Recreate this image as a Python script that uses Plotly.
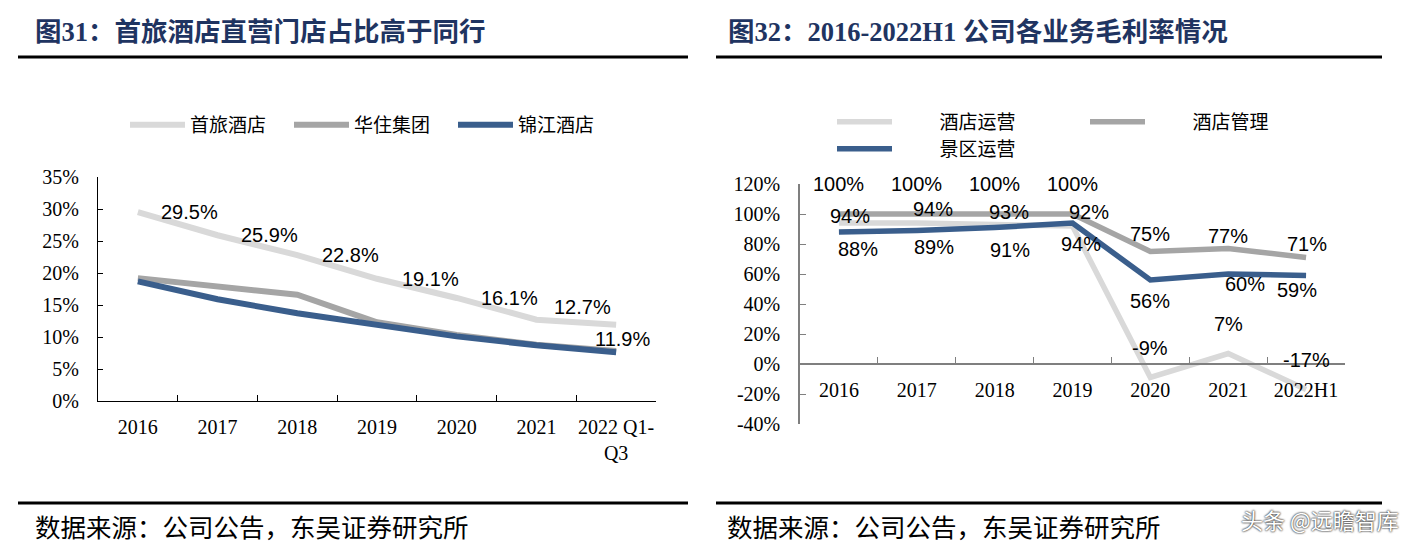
import plotly.graph_objects as go

# ---------------- data ----------------
left_categories = ["2016", "2017", "2018", "2019", "2020", "2021", "2022 Q1-<br>Q3"]
shoulv_hotel = [29.5, 25.9, 22.8, 19.1, 16.1, 12.7, 11.9]      # 首旅酒店
huazhu_group = [19.2, 17.9, 16.6, 12.3, 10.3, 8.8, 7.8]        # 华住集团
jinjiang_hotel = [18.7, 15.9, 13.7, 11.8, 10.1, 8.7, 7.6]      # 锦江酒店
left_yticks = [0, 5, 10, 15, 20, 25, 30, 35]

right_categories = ["2016", "2017", "2018", "2019", "2020", "2021", "2022H1"]
hotel_ops = [94, 94, 93, 92, -9, 7, -17]          # 酒店运营
hotel_mgmt = [100, 100, 100, 100, 75, 77, 71]     # 酒店管理
scenic_ops = [88, 89, 91, 94, 56, 60, 59]         # 景区运营
right_yticks = [-40, -20, 0, 20, 40, 60, 80, 100, 120]

# ---------------- styles ----------------
W, H = 1409, 550
C_LIGHT = "#D9D9D9"
C_GRAY = "#A5A5A5"
C_BLUE = "#3A5E8C"
TITLE_C = "#1F3461"
SERIF = "Liberation Serif, Times New Roman, serif"
SANS = "Liberation Sans, Arial, sans-serif"
CJK = "Noto Sans CJK SC"
TITLE_FONT = "Liberation Serif, Noto Sans CJK SC"

# label offsets (px): (dx, dy) for each point
left_label_off = [(52, 0), (52, 0), (53, 0), (53, 0), (53, 0), (46, 13), (6, -14)]
ops_label_off = [(11, 7), (16, 14), (14, 12), (16, 14), (0, 30), (0, 30), (0, 30)]
mgmt_label_off = [(0, 30), (0, 30), (0, 30), (0, 30), (0, 17), (0, 12), (1, 14)]
scenic_label_off = [(19, -17), (17, -17), (15, -23), (8, -21), (0, -21), (17, -10), (-9, -14)]

def px_x(v):
    return v / W

def px_y(v):
    return 1 - v / H

fig = go.Figure()

# left chart traces
fig.add_trace(go.Scatter(x=left_categories, y=shoulv_hotel, name="首旅酒店", mode="lines",
                         line=dict(color=C_LIGHT, width=6), xaxis="x", yaxis="y", legend="legend"))
fig.add_trace(go.Scatter(x=left_categories, y=huazhu_group, name="华住集团", mode="lines",
                         line=dict(color=C_GRAY, width=6), xaxis="x", yaxis="y", legend="legend"))
fig.add_trace(go.Scatter(x=left_categories, y=jinjiang_hotel, name="锦江酒店", mode="lines",
                         line=dict(color=C_BLUE, width=6), xaxis="x", yaxis="y", legend="legend"))

# right chart traces
pad = "\u00a0" * 10
fig.add_trace(go.Scatter(x=right_categories, y=hotel_ops, name=pad + "酒店运营", mode="lines",
                         line=dict(color=C_LIGHT, width=5.5), xaxis="x2", yaxis="y2", legend="legend2"))
fig.add_trace(go.Scatter(x=right_categories, y=hotel_mgmt, name=pad + "酒店管理", mode="lines",
                         line=dict(color=C_GRAY, width=5.5), xaxis="x2", yaxis="y2", legend="legend2"))
fig.add_trace(go.Scatter(x=right_categories, y=scenic_ops, name=pad + "景区运营", mode="lines",
                         line=dict(color=C_BLUE, width=5.5), xaxis="x2", yaxis="y2", legend="legend3"))

annotations = []

def add_labels(vals, offs, xr, yr):
    for i, (v, (dx, dy)) in enumerate(zip(vals, offs)):
        annotations.append(dict(x=i, y=v, xref=xr, yref=yr, text=f"{v}%", showarrow=False,
                                xshift=dx, yshift=dy, xanchor="center", yanchor="middle",
                                font=dict(family=SANS, size=20, color="black")))

add_labels(shoulv_hotel, left_label_off, "x", "y")
add_labels(hotel_mgmt, mgmt_label_off, "x2", "y2")
add_labels(hotel_ops, ops_label_off, "x2", "y2")
add_labels(scenic_ops, scenic_label_off, "x2", "y2")

# titles
annotations.append(dict(x=px_x(33), y=px_y(32), xref="paper", yref="paper", xanchor="left", yanchor="middle",
                        text="<b>图31：首旅酒店直营门店占比高于同行</b>", showarrow=False,
                        font=dict(family=TITLE_FONT, size=26.5, color=TITLE_C)))
annotations.append(dict(x=px_x(726), y=px_y(32), xref="paper", yref="paper", xanchor="left", yanchor="middle",
                        text="<b>图32：2016-2022H1 公司各业务毛利率情况</b>", showarrow=False,
                        font=dict(family=TITLE_FONT, size=26.5, color=TITLE_C)))
# sources
for sx in (33, 725):
    annotations.append(dict(x=px_x(sx), y=px_y(525), xref="paper", yref="paper", xanchor="left", yanchor="middle",
                            text="数据来源：公司公告，东吴证券研究所", showarrow=False,
                            font=dict(family=CJK, size=25.5, color="black")))
# watermark
annotations.append(dict(x=px_x(1320), y=px_y(519), xref="paper", yref="paper", xanchor="center", yanchor="middle",
                        text="头条 @远瞻智库", showarrow=False,
                        font=dict(family=CJK, size=22, color="white",
                                  shadow="0px 0px 2px #333, 0px 0px 2px #333")))

shapes = []
for (x0, x1) in ((18, 688), (716, 1382)):
    for yy in (57, 503):
        shapes.append(dict(type="line", xref="paper", yref="paper", x0=px_x(x0), x1=px_x(x1),
                           y0=px_y(yy), y1=px_y(yy), line=dict(color="black", width=3)))

tickfont = dict(family=SERIF, size=20, color="black")

fig.update_layout(
    width=W, height=H,
    margin=dict(l=0, r=0, t=0, b=0, autoexpand=False),
    paper_bgcolor="white", plot_bgcolor="white",
    showlegend=True,
    xaxis=dict(domain=[px_x(98), px_x(656)], type="category", range=[-0.5, 6.5],
               showline=True, linecolor="black", linewidth=1, ticks="inside", ticklen=6,
               tickcolor="black", tickson="boundaries", showgrid=False, zeroline=False,
               tickfont=tickfont, ticklabelstandoff=8, tickangle=0, anchor="y"),
    yaxis=dict(domain=[px_y(401), px_y(177)], range=[0, 35], tickvals=left_yticks,
               ticktext=[f"{t}%" for t in left_yticks], showline=True, linecolor="black", linewidth=1,
               ticks="inside", ticklen=5, tickcolor="black", showgrid=False, zeroline=False,
               tickfont=tickfont, ticklabelstandoff=14, anchor="x"),
    xaxis2=dict(domain=[px_x(800), px_x(1345)], type="category", range=[-0.5, 6.5],
                anchor="free", position=px_y(364),
                showline=True, linecolor="#7F7F7F", linewidth=1.5, ticks="inside", ticklen=6,
                tickcolor="#7F7F7F", tickson="boundaries", showgrid=False, zeroline=False,
                tickfont=tickfont, ticklabelstandoff=8, tickangle=0),
    yaxis2=dict(domain=[px_y(424), px_y(184)], range=[-40, 120], tickvals=right_yticks,
                ticktext=[f"{t}%" for t in right_yticks], showline=True, linecolor="#7F7F7F",
                linewidth=1.5, ticks="inside", ticklen=6, tickcolor="#7F7F7F", showgrid=False,
                zeroline=False, tickfont=tickfont, ticklabelstandoff=14, anchor="x2"),
    legend=dict(orientation="h", x=px_x(125), y=px_y(125), xanchor="left", yanchor="middle",
                itemwidth=55, entrywidth=94, entrywidthmode="pixels",
                font=dict(family=CJK, size=19, color="black"), bgcolor="rgba(0,0,0,0)"),
    legend2=dict(orientation="h", x=px_x(832), y=px_y(122), xanchor="left", yanchor="middle",
                 itemwidth=55, entrywidth=183, entrywidthmode="pixels",
                 font=dict(family=CJK, size=19, color="black"), bgcolor="rgba(0,0,0,0)"),
    legend3=dict(orientation="h", x=px_x(832), y=px_y(149), xanchor="left", yanchor="middle",
                 itemwidth=55, font=dict(family=CJK, size=19, color="black"), bgcolor="rgba(0,0,0,0)"),
    annotations=annotations,
    shapes=shapes,
)

fig.write_html("out.html", config={"displayModeBar": False},
               post_script="document.body.style.margin='0';")
